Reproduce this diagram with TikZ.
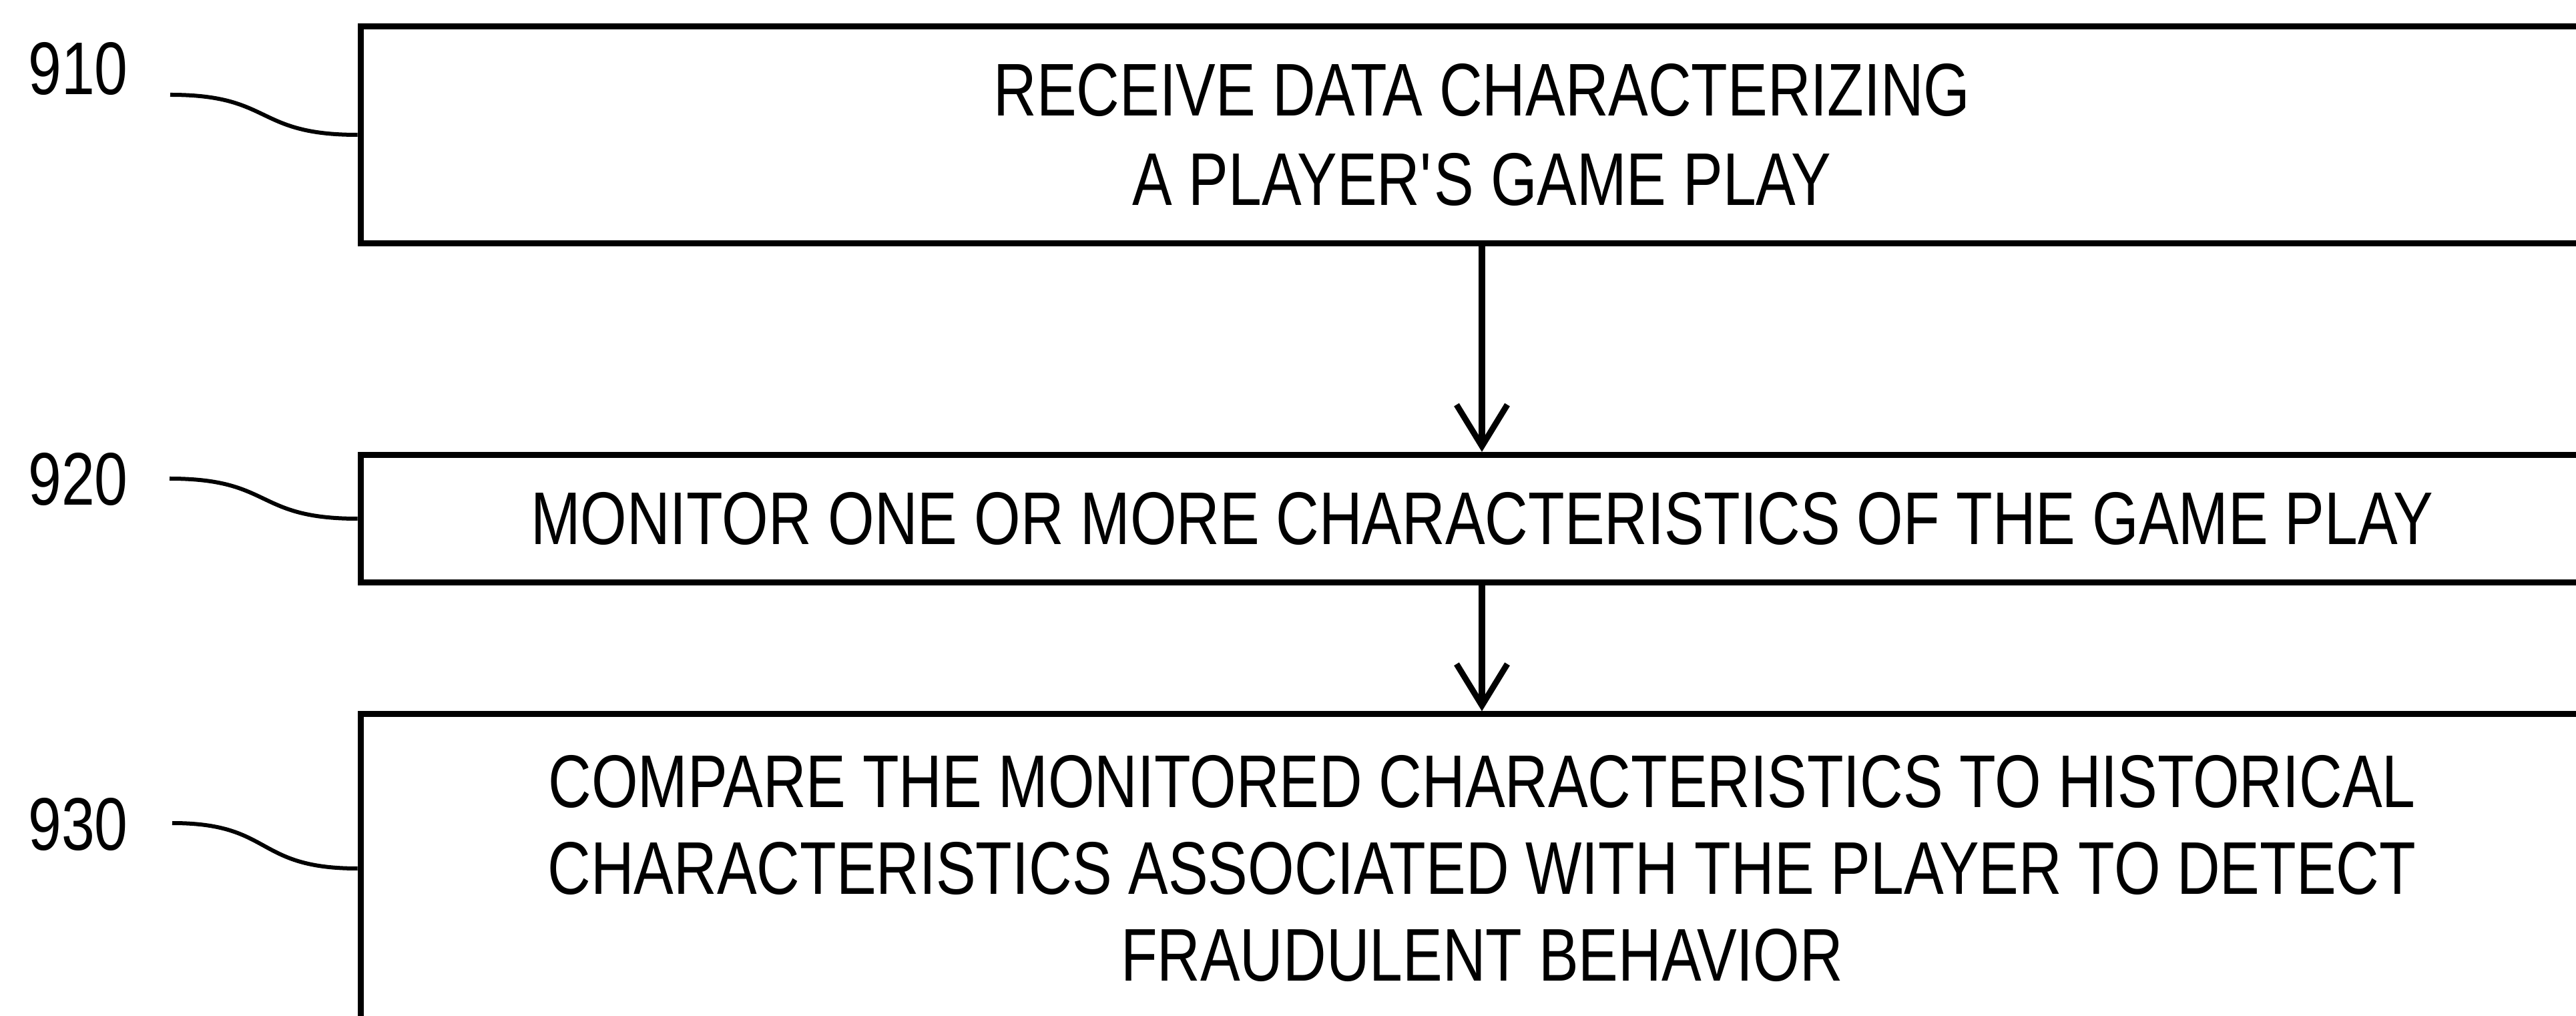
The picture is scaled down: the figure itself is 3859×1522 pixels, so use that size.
\documentclass[tikz,border=0pt]{standalone}
\usepackage{fontspec}
\setmainfont{Liberation Sans}[FakeStretch=0.80]
\usetikzlibrary{arrows.meta}
\begin{document}
\begin{tikzpicture}[x=0.01cm,y=-0.01cm,
  stepbox/.style={draw, line width=0.09cm, inner sep=0pt, align=center,
    minimum width=33.58cm, font=\fontsize{31.8pt}{38pt}\selectfont},
  flow/.style={line width=0.1cm, -{Straight Barb[length=0.62cm,width=0.76cm,line width=0.09cm]}},
  leader/.style={line width=0.06cm},
  reflabel/.style={font=\fontsize{31.8pt}{38pt}\selectfont, inner sep=0pt}]
\path[use as bounding box, clip] (0,0) rectangle (3859,1522);
\fill[white] (0,0) rectangle (3859,1522);

\node[stepbox, minimum height=3.25cm] (b910) at (2220,202)
  {RECEIVE DATA CHARACTERIZING\\A PLAYER\textquotesingle S GAME PLAY};
\node[stepbox, minimum height=1.91cm] (b920) at (2220,777)
  {MONITOR ONE OR MORE CHARACTERISTICS OF THE GAME PLAY};
\node[stepbox, minimum height=4.62cm, font=\fontsize{31.8pt}{37pt}\selectfont] (b930) at (2220,1301)
  {COMPARE THE MONITORED CHARACTERISTICS TO HISTORICAL\\CHARACTERISTICS ASSOCIATED WITH THE PLAYER TO DETECT\\FRAUDULENT BEHAVIOR};

\draw[flow] (b910.south) -- (b920.north);
\draw[flow] (b920.south) -- (b930.north);

\node[reflabel] (l910) at (117,103) {910};
\node[reflabel] (l920) at (117,718) {920};
\node[reflabel] (l930) at (117,1235) {930};

\coordinate (s910) at (255,142);
\coordinate (s920) at (254,717);
\coordinate (s930) at (258,1233);
\draw[leader] (s910) .. controls (410,142) and (380,202) .. (b910.west);
\draw[leader] (s920) .. controls (410,717) and (380,777) .. (b920.west);
\draw[leader] (s930) .. controls (410,1233) and (380,1301) .. (b930.west);
\end{tikzpicture}
\end{document}
